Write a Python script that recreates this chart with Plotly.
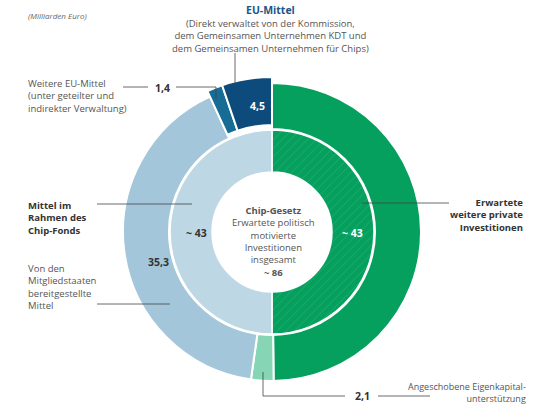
import plotly.graph_objects as go

# Daten (Milliarden Euro)
aussen_labels = ["Erwartete weitere private Investitionen", "Angeschobene Eigenkapitalunterstützung",
                 "Von den Mitgliedstaaten bereitgestellte Mittel", "Weitere EU-Mittel", "EU-Mittel"]
aussen_werte = [43, 2.1, 35.3, 1.4, 4.5]
aussen_farben = ["#06A05E", "#86D6B6", "#A3C6DA", "#176C96", "#0D4B7D"]
aussen_eu = [False, False, False, True, True]   # EU-Mittel stehen etwas hervor

innen_labels = ["Erwartete weitere private Investitionen", "Mittel im Rahmen des Chip-Fonds"]
innen_werte = [43, 43]
innen_farben = ["#06A05E", "#BDD7E5"]
gesamt = 86

W, H = 540, 412
CX, CY = 272, 232
R = 160  # Pixel-Radius der Polar-Fläche


def fmt(v):
    return f"{v:.1f}".replace(".", ",")


def winkel(werte):
    s = sum(werte)
    breite = [v / s * 360 for v in werte]
    mitte, acc = [], 0
    for b in breite:
        mitte.append(acc + b / 2)
        acc += b
    return mitte, breite


fig = go.Figure()

th, br = winkel(aussen_werte)
fig.add_trace(go.Barpolar(
    theta=th, width=br,
    base=[107 if e else 103 for e in aussen_eu],
    r=[48 if e else 46 for e in aussen_eu],
    marker=dict(color=aussen_farben, line=dict(color="white", width=2)),
    hovertext=[f"{l}: {fmt(v)}" for l, v in zip(aussen_labels, aussen_werte)],
    hoverinfo="text", showlegend=False,
))

th, br = winkel(innen_werte)
fig.add_trace(go.Barpolar(
    theta=th, width=br, base=[60, 60], r=[42, 42],
    marker=dict(color=innen_farben, line=dict(color="white", width=1.5),
                pattern=dict(shape=["/", ""], fgcolor="white", fgopacity=0.22,
                             size=6, solidity=0.08)),
    hovertext=[f"{l}: ~ {v}" for l, v in zip(innen_labels, innen_werte)],
    hoverinfo="text", showlegend=False,
))

# Hinweislinien und Punkte (Pixelkoordinaten)
linien = [
    [(235, 53), (235, 86)],
    [(123, 87), (148, 87)],
    [(176, 87), (216, 87), (216, 99)],
    [(97, 204), (192, 204)],
    [(97, 304), (170, 304)],
    [(362, 203), (449, 203)],
    [(263, 372), (263, 396), (345, 396)],
    [(378, 396), (430, 396)],
]
punkte = [(235, 86), (216, 99), (192, 204), (170, 304), (362, 203), (263, 372)]

shapes = []
for l in linien:
    path = "M " + " L ".join(f"{x},{y}" for x, y in l)
    shapes.append(dict(type="path", path=path, xref="x", yref="y",
                       line=dict(color="#444444", width=0.8)))

fig.add_trace(go.Scatter(
    x=[p[0] for p in punkte], y=[p[1] for p in punkte], mode="markers",
    marker=dict(size=3, color="#222222"), hoverinfo="skip", showlegend=False,
))

grau = "#555555"
dunkel = "#333333"
font = "Open Sans"
ann = []


def txt(x, y, t, size=9.5, color=grau, align="left", anchor="left", bold=False, italic=False):
    if bold:
        t = "<b>" + t + "</b>"
    if italic:
        t = "<i>" + t + "</i>"
    ann.append(dict(x=x, y=y, xref="x", yref="y", text=t, showarrow=False, align=align,
                    xanchor=anchor, yanchor="middle",
                    font=dict(family=font, size=size, color=color)))


txt(26, 15, "(Milliarden Euro)", size=8, italic=True, color="#666666")
txt(270, 10, "EU-Mittel", size=10.5, color="#1B5687", anchor="center", bold=True)
txt(270, 36, "(Direkt verwaltet von der Kommission,<br>dem Gemeinsamen Unternehmen KDT und<br>"
    "dem Gemeinsamen Unternehmen für Chips)", size=9.5, anchor="center", align="center")
txt(26, 96, "Weitere EU-Mittel<br>(unter geteilter und<br>indirekter Verwaltung)", size=9.5)
txt(162, 88, fmt(aussen_werte[3]), size=10.5, color=dunkel, anchor="center", bold=True)
txt(26, 218, "Mittel im<br>Rahmen des<br>Chip-Fonds", size=9.5, color=dunkel, bold=True)
txt(26, 287, "Von den<br>Mitgliedstaaten<br>bereitgestellte<br>Mittel", size=9.5)
txt(525, 215, "Erwartete<br>weitere private<br>Investitionen", size=9.5, color=dunkel,
    align="right", anchor="right", bold=True)
txt(528, 392, "Angeschobene Eigenkapital-<br>unterstützung", size=9, align="right", anchor="right")
txt(362, 396, fmt(aussen_werte[1]), size=10.5, color=dunkel, anchor="center", bold=True)

# Werte in den Ringen
txt(257, 106, fmt(aussen_werte[4]), size=10.5, color="white", anchor="center", bold=True)
txt(158, 262, fmt(aussen_werte[2]), size=10.5, color=dunkel, anchor="center", bold=True)
txt(196, 233, f"~ {innen_werte[1]}", size=10.5, color=dunkel, anchor="center", bold=True)
txt(352, 233, f"~ {innen_werte[0]}", size=10.5, color="white", anchor="center", bold=True)

# Mitte
txt(273, 241, f"<b>Chip-Gesetz</b><br>Erwartete politisch<br>motivierte<br>Investitionen<br>"
    f"insgesamt<br><b>~ {gesamt}</b>", size=9.5, anchor="center", align="center")

fig.update_layout(
    width=W, height=H, margin=dict(l=0, r=0, t=0, b=0),
    paper_bgcolor="white", plot_bgcolor="rgba(0,0,0,0)",
    xaxis=dict(range=[0, W], visible=False, fixedrange=True),
    yaxis=dict(range=[H, 0], visible=False, fixedrange=True),
    polar=dict(
        domain=dict(x=[(CX - R) / W, (CX + R) / W], y=[(H - CY - R) / H, (H - CY + R) / H]),
        bgcolor="rgba(0,0,0,0)",
        radialaxis=dict(range=[0, R], visible=False),
        angularaxis=dict(visible=False, rotation=90, direction="clockwise"),
    ),
    annotations=ann, shapes=shapes, showlegend=False,
)

fig.write_html("out.html", config={"displayModeBar": False},
               post_script="document.body.style.margin='0';")
